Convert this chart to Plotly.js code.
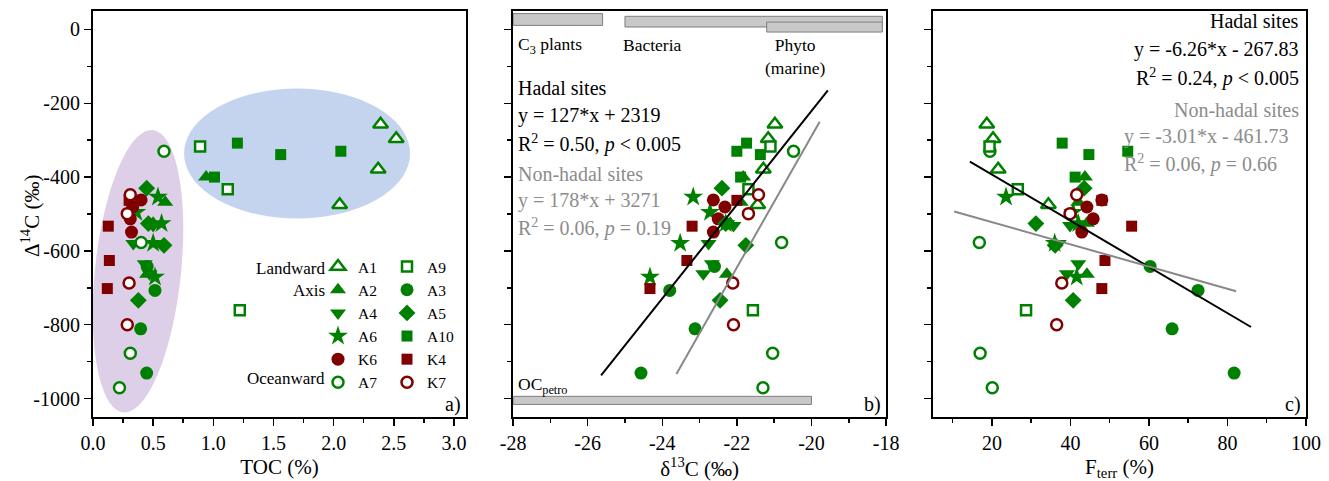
<!DOCTYPE html>
<html><head><meta charset="utf-8">
<script src="https://cdn.plot.ly/plotly-3.0.1.min.js"></script>
<style>html,body{margin:0;padding:0;background:#fff;} #chart{width:1329px;height:481px;}</style>
</head><body><div id="chart"></div>
<script>
// ---------------- DATA ----------------
// Each site: Δ14C (‰), TOC (%), δ13C (‰), Fterr (%) for the same samples
const A1_d14c = [-257, -296, -379, -475];
const A1_toc = [2.39, 2.52, 2.37, 2.05];
const A1_d13c = [-20.98, -21.16, -21.29, -21.44];
const A1_fterr = [18.7, 20.3, 21.6, 34.4];

const A2_d14c = [-400, -468, -525, -663];
const A2_toc = [0.94, 0.60, 0.50, 0.45];
const A2_d13c = [-21.83, -21.9, -22.18, -22.27];
const A2_fterr = [43.7, 42.0, 44.2, 44.2];

const A4_d14c = [-531, -580, -635, -662];
const A4_toc = [0.50, 0.335, 0.43, 0.47];
const A4_d13c = [-22.09, -22.76, -22.67, -22.9];
const A4_fterr = [39.9, 37.0, 42.0, 39.1];

const A6_d14c = [-454, -495, -526, -579, -671];
const A6_toc = [0.54, 0.36, 0.57, 0.50, 0.515];
const A6_d13c = [-23.17, -22.72, -22.3, -23.52, -24.33];
const A6_fterr = [23.6, 40.7, 42.0, 36.0, 41.6];

const K6_d14c = [-462, -481, -513, -549];
const K6_toc = [0.40, 0.33, 0.31, 0.32];
const K6_d13c = [-22.63, -22.32, -22.5, -22.63];
const K6_fterr = [48.0, 44.2, 45.8, 42.9];

const A7_d14c = [-330, -577, -877, -971];
const A7_toc = [0.59, 0.40, 0.31, 0.22];
const A7_d13c = [-20.48, -20.8, -21.04, -21.3];
const A7_fterr = [19.5, 16.8, 17.0, 20.1];

const A9_d14c = [-317, -433, -761];
const A9_toc = [0.89, 1.12, 1.22];
const A9_d13c = [-21.1, -21.69, -21.57];
const A9_fterr = [19.4, 26.6, 28.7];

const A3_d14c = [-642, -707, -811, -931];
const A3_toc = [0.45, 0.515, 0.396, 0.446];
const A3_d13c = [-22.6, -23.8, -23.12, -24.57];
const A3_fterr = [60.3, 72.5, 65.9, 81.7];

const A5_d14c = [-430, -526, -585, -734];
const A5_toc = [0.446, 0.46, 0.59, 0.377];
const A5_d13c = [-22.4, -22.3, -21.76, -22.45];
const A5_fterr = [43.5, 31.2, 36.1, 40.7];

const A10_d14c = [-308, -330, -339, -400];
const A10_toc = [1.20, 2.06, 1.56, 1.01];
const A10_d13c = [-21.74, -22.0, -21.37, -21.9];
const A10_fterr = [37.9, 54.6, 44.7, 41.2];

const K4_d14c = [-463, -533, -626, -702];
const K4_toc = [0.30, 0.127, 0.136, 0.119];
const K4_d13c = [-22.0, -23.2, -23.34, -24.33];
const K4_fterr = [48.0, 55.6, 48.8, 48.0];

const K7_d14c = [-448, -499, -687, -800];
const K7_toc = [0.31, 0.285, 0.30, 0.285];
const K7_d13c = [-21.42, -21.69, -22.11, -22.09];
const K7_fterr = [41.6, 39.9, 37.8, 36.5];

// regression fits: [slope, intercept] and x extent of the drawn line
const hadalB_coef = [127, 2319];
const hadalB_xspan = [-25.64, -19.56];
const nonhadalB_coef = [178, 3271];
const nonhadalB_xspan = [-23.62, -19.78];
const hadalC_coef = [-6.26, -267.83];
const hadalC_xspan = [14.4, 86.0];
const nonhadalC_coef = [-3.01, -461.73];
const nonhadalC_xspan = [10.4, 82.2];

// end-member δ13C ranges
const sourceLabels = ['C<sub>3</sub> plants', 'Bacteria', 'Phyto<br>(marine)', 'OC<sub>petro</sub>'];
const sourceMin = [-28, -25, -21.2, -28];
const sourceMax = [-25.6, -18.1, -18.1, -20.0];

// tick values
const yTicks = [0, -200, -400, -600, -800, -1000];
const tocTicks = [0, 0.5, 1.0, 1.5, 2.0, 2.5, 3.0];
const d13cTicks = [-28, -26, -24, -22, -20, -18];
const fterrTicks = [20, 40, 60, 80, 100];

// ---------------- STYLE / LAYOUT ----------------
const GREEN = '#008000', RED = '#800000';
const FONT = 'Liberation Serif';
const sites = [
  {name:'A1', d14c:A1_d14c, toc:A1_toc, d13c:A1_d13c, f:A1_fterr, sym:'triangle-up', open:true, col:GREEN, size:13, lg:'legend'},
  {name:'A2', d14c:A2_d14c, toc:A2_toc, d13c:A2_d13c, f:A2_fterr, sym:'triangle-up', open:false, col:GREEN, size:14, lg:'legend'},
  {name:'A4', d14c:A4_d14c, toc:A4_toc, d13c:A4_d13c, f:A4_fterr, sym:'triangle-down', open:false, col:GREEN, size:14, lg:'legend'},
  {name:'A6', d14c:A6_d14c, toc:A6_toc, d13c:A6_d13c, f:A6_fterr, sym:'star', open:false, col:GREEN, size:15, lg:'legend'},
  {name:'K6', d14c:K6_d14c, toc:K6_toc, d13c:K6_d13c, f:K6_fterr, sym:'circle', open:false, col:RED, size:13, lg:'legend'},
  {name:'A7', d14c:A7_d14c, toc:A7_toc, d13c:A7_d13c, f:A7_fterr, sym:'circle', open:true, col:GREEN, size:11, lg:'legend'},
  {name:'A9', d14c:A9_d14c, toc:A9_toc, d13c:A9_d13c, f:A9_fterr, sym:'square', open:true, col:GREEN, size:10, lg:'legend2'},
  {name:'A3', d14c:A3_d14c, toc:A3_toc, d13c:A3_d13c, f:A3_fterr, sym:'circle', open:false, col:GREEN, size:13, lg:'legend2'},
  {name:'A5', d14c:A5_d14c, toc:A5_toc, d13c:A5_d13c, f:A5_fterr, sym:'diamond', open:false, col:GREEN, size:13, lg:'legend2'},
  {name:'A10', d14c:A10_d14c, toc:A10_toc, d13c:A10_d13c, f:A10_fterr, sym:'square', open:false, col:GREEN, size:11, lg:'legend2'},
  {name:'K4', d14c:K4_d14c, toc:K4_toc, d13c:K4_d13c, f:K4_fterr, sym:'square', open:false, col:RED, size:11, lg:'legend2'},
  {name:'K7', d14c:K7_d14c, toc:K7_toc, d13c:K7_d13c, f:K7_fterr, sym:'circle', open:true, col:RED, size:11, lg:'legend2'}
];

const L = 93, R = 23, T = 11, B = 64, W = 1329, H = 481;
const PW = W - L - R, PH = H - T - B;
const px2x = p => (p - L) / PW;
const py2y = p => (H - B - p) / PH;

const traces = [];
const panels = [['x','y','toc'], ['x2','y2','d13c'], ['x3','y3','f']];
panels.forEach((p, pi) => {
  sites.forEach(s => {
    traces.push({
      type:'scatter', mode:'markers', x:s[p[2]], y:s.d14c, xaxis:p[0], yaxis:p[1],
      name:s.name, legendgroup:s.name, showlegend: pi === 0, legend:s.lg,
      marker:{symbol:s.sym, size:s.size, color: s.open ? '#ffffff' : s.col,
              line:{color:s.col, width: s.open ? 2.5 : 0}},
      hoverinfo:'x+y+name'
    });
  });
});

function fitLine(coef, span, xa, ya, color) {
  return {type:'scatter', mode:'lines', x:span, y:span.map(v => coef[0]*v + coef[1]),
          xaxis:xa, yaxis:ya, showlegend:false, hoverinfo:'skip',
          line:{color:color, width:2}};
}
traces.push(fitLine(hadalB_coef, hadalB_xspan, 'x2','y2','#000000'));
traces.push(fitLine(nonhadalB_coef, nonhadalB_xspan, 'x2','y2','#888888'));
traces.push(fitLine(hadalC_coef, hadalC_xspan, 'x3','y3','#000000'));
traces.push(fitLine(nonhadalC_coef, nonhadalC_xspan, 'x3','y3','#888888'));

// ellipses (decorations) drawn in pixel units around a data-space center
const xsA = PW*0.3075/3.1, ysA = PH/1100;
function ellipse(cx, cy, rx, ry, angDeg) {
  const a = angDeg*Math.PI/180; let d = '';
  for (let i = 0; i <= 72; i++) {
    const t = i/72*2*Math.PI;
    const dx = rx*Math.cos(t)*Math.cos(a) - ry*Math.sin(t)*Math.sin(a);
    const dy = rx*Math.cos(t)*Math.sin(a) + ry*Math.sin(t)*Math.cos(a);
    d += (i ? 'L' : 'M') + (cx + dx/xsA).toFixed(4) + ',' + (cy - dy/ysA).toFixed(2);
  }
  return d + 'Z';
}
const shapes = [
  {type:'path', xref:'x', yref:'y', path:ellipse(0.374, -655, 43, 142, 6), fillcolor:'rgb(222,207,232)', line:{width:0}, layer:'below'},
  {type:'path', xref:'x', yref:'y', path:ellipse(1.696, -336, 113, 65, 0), fillcolor:'rgb(197,212,238)', line:{width:0}, layer:'below'}
];
const barY = [[11, 43], [6.6, 35.6], [-7, 20], [-1016, -994]];
sourceMin.forEach((v, i) => {
  shapes.push({type:'rect', xref:'x2', yref:'y2', x0:v, x1:sourceMax[i], y0:barY[i][0], y1:barY[i][1],
               fillcolor:'#c8c8c8', line:{color:'#7f7f7f', width:1}, layer:'below'});
});

const tf = (size, color) => ({family:FONT, size:size, color:color || '#000'});
const annotations = [];
function ann(text, px, py, anchor, color, size, angle) {
  annotations.push({text:text, xref:'paper', yref:'paper', x:px2x(px), y:py2y(py), xanchor:anchor || 'left',
                    yanchor:'middle', showarrow:false, font:tf(size || 20, color), textangle: angle || 0});
}
// source labels (panel b)
const srcPos = [[516, 45], [621, 45], [763, 56], [516, 385]];
sourceLabels.forEach((t, i) => ann(t, srcPos[i][0], srcPos[i][1], 'left', '#000', 17.5));
// regression text panel b
ann('Hadal sites', 516, 88); ann('y = 127*x + 2319', 516, 115); ann('R<sup>2</sup> = 0.50, <i>p</i> &lt; 0.005', 516, 143);
const G = '#8c8c8c';
ann('Non-hadal sites', 516, 174, 'left', G); ann('y = 178*x + 3271', 516, 200, 'left', G); ann('R<sup>2</sup> = 0.06, <i>p</i> = 0.19', 516, 227, 'left', G);
// regression text panel c
ann('Hadal sites', 1301, 21, 'right'); ann('y = -6.26*x - 267.83', 1301, 49, 'right'); ann('R<sup>2</sup> = 0.24, <i>p</i> &lt; 0.005', 1301, 78, 'right');
ann('Non-hadal sites', 1301, 110, 'right', G); ann('y = -3.01*x - 461.73', 1122, 136, 'left', G); ann('R<sup>2</sup> = 0.06, <i>p</i> = 0.66', 1122, 163, 'left', G);
// legend row labels
ann('Landward', 327, 268, 'right', '#000', 17); ann('Axis', 327, 290, 'right', '#000', 17); ann('Oceanward', 327, 378, 'right', '#000', 17);
// panel letters
ann('a)', 463, 404, 'right'); ann('b)', 883, 404, 'right'); ann('c)', 1303, 404, 'right');
// y-axis title
ann('Δ<sup>14</sup>C (‰)', 30, 216, 'center', '#000', 21, -90);

const fmt = v => String(v).replace('\u2212', '-');
const axisCommon = {showline:true, linecolor:'#000', linewidth:2, mirror:true, ticks:'outside', ticklen:7, tickwidth:1.5,
  tickcolor:'#000', showgrid:false, zeroline:false, tickfont:tf(20), tickmode:'array',
  minor:{ticks:'outside', ticklen:4, tickwidth:1.5, tickcolor:'#000'}};
const yCommon = Object.assign({}, axisCommon, {range:[-1050, 50], tickvals:yTicks, ticktext:yTicks.map(v => fmt(v)),
  minor:Object.assign({}, axisCommon.minor, {dtick:100, tick0:0})});

const layout = {
  width:W, height:H, margin:{l:L, r:R, t:T, b:B}, paper_bgcolor:'#fff', plot_bgcolor:'#fff',
  font:tf(20), hovermode:'closest', shapes:shapes, annotations:annotations,
  xaxis: Object.assign({}, axisCommon, {domain:[0, 0.3075], range:[0, 3.1], tickvals:tocTicks, ticktext:tocTicks.map(v => v.toFixed(1)), anchor:'y',
         minor:Object.assign({}, axisCommon.minor, {dtick:0.25, tick0:0}), title:{text:'TOC (%)', font:tf(21), standoff:6}}),
  xaxis2: Object.assign({}, axisCommon, {domain:[0.3463, 0.6538], range:[-28, -18], tickvals:d13cTicks, ticktext:d13cTicks.map(v => fmt(v)), anchor:'y2',
         minor:Object.assign({}, axisCommon.minor, {dtick:1, tick0:-28}), title:{text:'δ<sup>13</sup>C (‰)', font:tf(21), standoff:6}}),
  xaxis3: Object.assign({}, axisCommon, {domain:[0.6925, 1], range:[5, 100], tickvals:fterrTicks, ticktext:fterrTicks.map(v => fmt(v)), anchor:'y3',
         minor:Object.assign({}, axisCommon.minor, {dtick:10, tick0:0}), title:{text:'F<sub>terr</sub> (%)', font:tf(21), standoff:6}}),
  yaxis: Object.assign({}, yCommon, {anchor:'x'}),
  yaxis2: Object.assign({}, yCommon, {anchor:'x2', showticklabels:false}),
  yaxis3: Object.assign({}, yCommon, {anchor:'x3', showticklabels:false}),
  legend: {x:px2x(318), y:py2y(250), xanchor:'left', yanchor:'top', bgcolor:'rgba(0,0,0,0)', borderwidth:0,
           font:tf(15.5), tracegroupgap:0, itemclick:false, itemdoubleclick:false},
  legend2: {x:px2x(387), y:py2y(250), xanchor:'left', yanchor:'top', bgcolor:'rgba(0,0,0,0)', borderwidth:0,
           font:tf(15.5), tracegroupgap:0, itemclick:false, itemdoubleclick:false}
};

Plotly.newPlot('chart', traces, layout, {displayModeBar:false, staticPlot:true});
</script></body></html>
